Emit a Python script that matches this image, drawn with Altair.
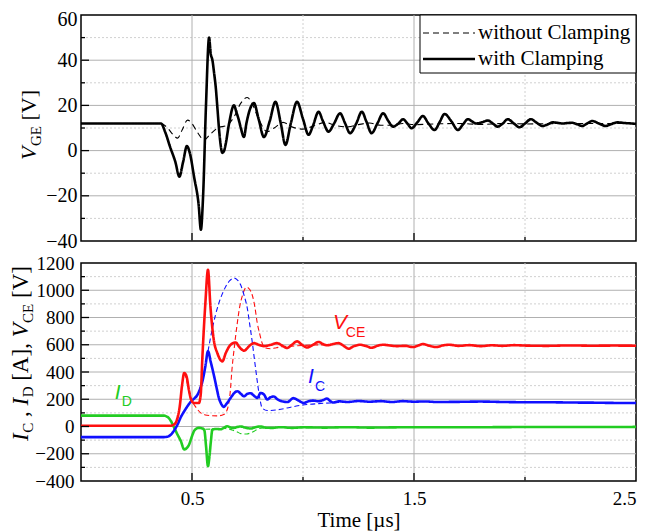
import altair as alt
import pandas as pd

SERIF = "Liberation Serif"
SANS = "Liberation Sans"
RED, BLUE, GREEN = "#ff1010", "#1010ff", "#22cc22"

# ---------------- data (time in us) ----------------
vge_with = [(0,12),(0.36,12),(0.38,8),(0.40,2),(0.425,-5),(0.443,-11.5),(0.46,-5),(0.477,2),(0.49,-1),
    (0.51,-12),(0.53,-24),(0.54,-35),(0.55,-20),(0.563,20),(0.577,50),(0.584,43),(0.592,40),(0.6,34),
    (0.607,28),(0.614,19.4),(0.625,6),(0.637,-1),(0.645,0),(0.652,3),(0.667,12),(0.689,20),(0.7,17),
    (0.711,13.5),(0.72,10),(0.734,6),(0.745,12),(0.76,18),(0.779,21),(0.8,14),(0.824,6),(0.85,13),
    (0.876,21.6),(0.9,12),(0.921,2.5),(0.945,12),(0.973,21.6),(1.0,14),(1.025,7),(1.045,11),(1.07,17.2),
    (1.09,13),(1.115,8.4),(1.14,12),(1.167,16.5),(1.19,12),(1.212,7.7),(1.24,12),(1.265,17.2),(1.285,13),
    (1.309,7.7),(1.335,12),(1.361,16.5),(1.385,13),(1.406,10.6),(1.43,12),(1.451,13.9),(1.47,12),
    (1.489,9.9),(1.515,12.5),(1.54,15.3),(1.565,12),(1.593,9.1),(1.615,12.5),(1.638,16.2),(1.668,13),
    (1.698,9.1),(1.72,11.5),(1.743,13.9),(1.76,13),(1.78,12),(1.805,12.5),(1.833,13.3),(1.855,12),
    (1.877,10.6),(1.9,12),(1.922,13.9),(1.95,12),(1.975,10.3),(2.0,12),(2.027,13.9),(2.05,12.5),
    (2.079,10.9),(2.1,11.5),(2.124,12.5),(2.145,12.3),(2.169,12),(2.19,12.2),(2.214,12.3),(2.236,11.6),
    (2.258,10.9),(2.28,12),(2.303,13.1),(2.333,12),(2.363,10.9),(2.39,11.8),(2.415,12.5),(2.45,12.2),
    (2.48,12),(2.5,11.8)]
vge_without = [(0,12),(0.36,12),(0.39,10),(0.415,7),(0.435,5.5),(0.455,9),(0.48,13.5),(0.5,12),(0.525,8),
    (0.555,4.7),(0.58,7),(0.614,9.9),(0.659,11.3),(0.69,15),(0.72,21),(0.749,23.5),(0.77,21),(0.8,14),
    (0.839,8.4),(0.87,10),(0.91,12.5),(0.95,10.5),(1.0,9.5),(1.05,11),(1.1,12.5),(1.15,11),(1.2,10.5),
    (1.25,11.5),(1.3,12.2),(1.35,11.2),(1.4,11.2),(1.45,12),(1.5,11.5),(1.6,11.8),(1.7,12),(1.8,11.6),
    (1.9,12),(2.0,11.8),(2.2,12),(2.5,12)]

vce_with = [(0,5),(0.40,5),(0.42,15),(0.43,40),(0.445,150),(0.455,300),(0.465,393),(0.475,370),(0.487,260),
    (0.496,198),(0.509,173),(0.531,173),(0.539,230),(0.547,515),(0.56,900),(0.572,1150),(0.583,881),
    (0.598,637),(0.614,539),(0.637,478),(0.652,539),(0.674,600),(0.697,617),(0.711,588),(0.734,557),
    (0.764,600),(0.779,612),(0.8,600),(0.824,590),(0.855,600),(0.883,612),(0.905,595),(0.928,576),
    (0.95,600),(0.973,625),(0.995,600),(1.018,580),(1.045,600),(1.07,620),(1.09,605),(1.108,596),
    (1.135,605),(1.16,612),(1.185,590),(1.205,571),(1.23,590),(1.257,600),(1.285,590),(1.309,578),
    (1.335,592),(1.361,600),(1.39,595),(1.421,590),(1.46,592),(1.495,583),(1.52,595),(1.54,605),
    (1.57,592),(1.6,583),(1.63,595),(1.66,600),(1.7,592),(1.75,597),(1.8,590),(1.85,596),(1.9,592),
    (1.95,597),(2.0,594),(2.1,592),(2.2,595),(2.3,593),(2.4,594),(2.5,593)]
vce_without = [(0.465,393),(0.477,330),(0.487,246),(0.498,190),(0.509,161),(0.525,125),(0.539,100),
    (0.56,85),(0.583,80),(0.614,78),(0.643,88),(0.66,130),(0.672,250),(0.68,418),(0.692,600),(0.704,759),
    (0.715,880),(0.726,955),(0.746,1023),(0.76,1005),(0.771,967),(0.783,880),(0.794,759),(0.805,680),
    (0.816,612),(0.832,576),(0.854,571),(0.88,578),(0.9,585),(0.95,590),(1.0,595),(1.05,598),(1.1,600)]

ic_with = [(0,-78),(0.37,-78),(0.39,-75),(0.41,-50),(0.435,15),(0.45,70),(0.465,112),(0.48,150),(0.496,185),
    (0.51,205),(0.525,234),(0.537,280),(0.547,332),(0.56,440),(0.572,552),(0.585,470),(0.598,381),
    (0.61,290),(0.621,210),(0.632,165),(0.643,144),(0.655,165),(0.674,210),(0.69,245),(0.704,259),
    (0.72,240),(0.734,222),(0.75,240),(0.764,244),(0.78,225),(0.794,210),(0.809,246),(0.824,235),
    (0.839,198),(0.854,215),(0.868,220),(0.885,200),(0.905,185),(0.93,180),(0.957,208),(0.98,190),
    (1.003,173),(1.025,185),(1.047,190),(1.07,185),(1.092,195),(1.108,205),(1.12,190),(1.137,176),
    (1.16,185),(1.2,180),(1.25,187),(1.3,182),(1.35,186),(1.4,180),(1.45,186),(1.5,182),(1.55,184),
    (1.6,180),(1.7,181),(1.8,183),(1.9,180),(2.0,178),(2.1,178),(2.2,176),(2.3,175),(2.4,173),(2.5,172)]
ic_without = [(0.572,552),(0.582,640),(0.592,722),(0.606,820),(0.621,906),(0.637,975),(0.652,1028),
    (0.67,1070),(0.689,1089),(0.705,1075),(0.719,1040),(0.735,960),(0.749,869),(0.76,750),(0.771,625),
    (0.783,470),(0.794,332),(0.805,210),(0.816,136),(0.839,117),(0.883,122),(0.928,136),(0.97,150),
    (1.018,161),(1.07,168),(1.121,173),(1.2,178)]

id_with = [(0,80),(0.37,80),(0.39,70),(0.405,40),(0.42,-10),(0.435,-60),(0.45,-108),(0.465,-169),
    (0.475,-160),(0.487,-132),(0.498,-80),(0.509,-34),(0.52,-15),(0.531,-10),(0.548,-15),(0.556,-30),
    (0.563,-140),(0.572,-291),(0.578,-230),(0.585,-110),(0.592,-22),(0.61,-18),(0.63,-20),(0.645,-8),
    (0.659,2),(0.675,-8),(0.689,-10),(0.705,-3),(0.719,0),(0.74,-8),(0.764,-15),(0.785,-5),(0.809,0),
    (0.83,-8),(0.86,-10),(0.9,-5),(0.95,-10),(1.0,-6),(1.1,-8),(1.2,-5),(1.3,-8),(1.5,-5),(1.7,-6),
    (2.0,-4),(2.3,-4),(2.5,-3)]
id_without = [(0.56,-20),(0.6,-18),(0.65,-15),(0.68,-25),(0.704,-40),(0.72,-52),(0.745,-55),(0.764,-47),
    (0.78,-35),(0.794,-20),(0.82,-10),(0.86,-8)]

modes = ["without Clamping", "with Clamping"]
x_ticks_labeled = [0.5, 1.5, 2.5]
x_grid_major = [0.5, 1.5]
x_grid_minor = [1.0, 2.0]
top_y_ticks = [-40, -20, 0, 20, 40, 60]
top_grid_major = [-20, 0, 20, 40]
top_grid_minor = [-30, -10, 10, 30, 50]
bot_y_ticks = [-400, -200, 0, 200, 400, 600, 800, 1000, 1200]
bot_grid_major = [-200, 0, 200, 400, 600, 800, 1000]
bot_grid_minor = [-300, -100, 100, 300, 500, 700, 900, 1100]

# in-plot labels: (text, t, value, italic, size, color)
bottom_labels = [("V", 1.135, 713, True, 21, RED), ("CE", 1.193, 654, False, 14, RED),
                 ("I", 1.022, 317, True, 21, BLUE), ("C", 1.054, 259, False, 14, BLUE),
                 ("I", 0.152, 200, True, 21, GREEN), ("D", 0.184, 149, False, 14, GREEN)]

W = 555
H1, H2 = 226, 218


def frame(pairs, **extra):
    d = pd.DataFrame(pairs, columns=["t", "v"])
    for k, val in extra.items():
        d[k] = val
    return d


def grid_layers(major, minor, xenc, yenc):
    return [
        alt.Chart(pd.DataFrame({"v": minor})).mark_rule(color="#d0d0d0", strokeWidth=1, strokeDash=[2, 2]).encode(y=yenc),
        alt.Chart(pd.DataFrame({"t": x_grid_minor})).mark_rule(color="#d0d0d0", strokeWidth=1, strokeDash=[2, 2]).encode(x=xenc),
        alt.Chart(pd.DataFrame({"v": major})).mark_rule(color="#b0b0b0", strokeWidth=1).encode(y=yenc),
        alt.Chart(pd.DataFrame({"t": x_grid_major})).mark_rule(color="#b0b0b0", strokeWidth=1).encode(x=xenc),
    ]


def tick_layers(H, major, minor, xenc, yenc):
    return [
        alt.Chart(pd.DataFrame({"t": x_grid_major})).mark_rule(color="black", strokeWidth=1.3).encode(
            x=xenc, y=alt.value(H), y2=alt.value(H - 8)),
        alt.Chart(pd.DataFrame({"t": x_grid_minor})).mark_rule(color="black", strokeWidth=1.3).encode(
            x=xenc, y=alt.value(H), y2=alt.value(H - 4)),
        alt.Chart(pd.DataFrame({"v": major})).mark_rule(color="black", strokeWidth=1.3).encode(
            y=yenc, x=alt.value(0), x2=alt.value(8)),
        alt.Chart(pd.DataFrame({"v": minor})).mark_rule(color="black", strokeWidth=1.3).encode(
            y=yenc, x=alt.value(0), x2=alt.value(4)),
    ]


def piece(text, x, y, size, italic=False, font=SERIF):
    kw = dict(text=text, font=font, fontSize=size, angle=270, align="left",
              baseline="alphabetic", color="black")
    if italic:
        kw["fontStyle"] = "italic"
    return alt.Chart(pd.DataFrame({"a": [0]})).mark_text(**kw).encode(
        x=alt.value(x), y=alt.value(y))


one = pd.DataFrame({"a": [0]})

# ---------------- top panel ----------------
x_top = alt.X("t:Q", scale=alt.Scale(domain=[0, 2.5], nice=False, zero=False), axis=None)
y_top = alt.Y("v:Q", scale=alt.Scale(domain=[-40, 60], nice=False, zero=False),
              axis=alt.Axis(values=top_y_ticks, title=None, grid=False, ticks=False, domain=False,
                            labelFont=SERIF, labelFontSize=20, labelColor="black", labelPadding=4,
                            labelOffset={"condition": {"test": "datum.value == 60", "value": 4},
                                         "value": 0}))

df_top = pd.concat([frame(vge_without, mode=modes[0]), frame(vge_with, mode=modes[1])], ignore_index=True)

top_lines = alt.Chart(df_top).mark_line(color="black", interpolate="monotone").encode(
    x=x_top, y=y_top,
    strokeDash=alt.StrokeDash("mode:N", scale=alt.Scale(domain=modes, range=[[6, 4], [1, 0]]), legend=None),
    strokeWidth=alt.StrokeWidth("mode:N", scale=alt.Scale(domain=modes, range=[1.1, 2.6]), legend=None),
)

# manual legend box (pixel placement inside the top panel)
legend_layers = [
    alt.Chart(one).mark_rect(fill="white", stroke="black", strokeWidth=1).encode(
        x=alt.value(339), x2=alt.value(W), y=alt.value(0), y2=alt.value(58)),
    alt.Chart(one).mark_rule(color="black", strokeWidth=1.1, strokeDash=[6, 4]).encode(
        x=alt.value(342), x2=alt.value(394), y=alt.value(18)),
    alt.Chart(one).mark_rule(color="black", strokeWidth=2.6).encode(
        x=alt.value(342), x2=alt.value(394), y=alt.value(44)),
    alt.Chart(one).mark_text(text=modes[0], font=SERIF, fontSize=21, align="left", baseline="middle",
                             color="black").encode(x=alt.value(397), y=alt.value(18)),
    alt.Chart(one).mark_text(text=modes[1], font=SERIF, fontSize=21, align="left", baseline="middle",
                             color="black").encode(x=alt.value(397), y=alt.value(44)),
]

top_title = [piece("V", -45, 145, 22, True), piece("GE", -40, 131, 15),
             piece("[V]", -45, 105.5, 22)]

top = alt.layer(*grid_layers(top_grid_major, top_grid_minor, x_top, y_top),
                top_lines,
                *tick_layers(H1, top_grid_major, top_grid_minor, x_top, y_top),
                *legend_layers,
                *top_title).properties(width=W, height=H1)

# ---------------- bottom panel ----------------
x_bot = alt.X("t:Q", scale=alt.Scale(domain=[0, 2.5], nice=False, zero=False),
              axis=alt.Axis(values=x_ticks_labeled, format=".1f", title="Time [µs]", grid=False,
                            ticks=False, domain=False, labelFont=SERIF, labelFontSize=19,
                            labelColor="black", labelPadding=8, titleFont=SERIF, titleFontSize=21,
                            titleFontWeight="normal", titleColor="black", titlePadding=1))
y_bot = alt.Y("v:Q", scale=alt.Scale(domain=[-400, 1200], nice=False, zero=False),
              axis=alt.Axis(values=bot_y_ticks, format="d", title=None, grid=False, ticks=False,
                            domain=False, labelFont=SERIF, labelFontSize=19, labelColor="black",
                            labelPadding=7))

series_names = ["VCE dashed", "IC dashed", "ID dashed", "ID", "IC", "VCE"]
series_colors = [RED, BLUE, GREEN, GREEN, BLUE, RED]
df_bot = pd.concat([
    frame(vce_without, s="VCE dashed", m="dashed"),
    frame(ic_without, s="IC dashed", m="dashed"),
    frame(id_without, s="ID dashed", m="dashed"),
    frame(id_with, s="ID", m="solid"),
    frame(ic_with, s="IC", m="solid"),
    frame(vce_with, s="VCE", m="solid"),
], ignore_index=True)

bot_lines = alt.Chart(df_bot).mark_line(interpolate="monotone").encode(
    x=x_bot, y=y_bot,
    color=alt.Color("s:N", scale=alt.Scale(domain=series_names, range=series_colors), legend=None),
    strokeDash=alt.StrokeDash("m:N", scale=alt.Scale(domain=["dashed", "solid"], range=[[5, 3], [1, 0]]),
                              legend=None),
    strokeWidth=alt.StrokeWidth("m:N", scale=alt.Scale(domain=["dashed", "solid"], range=[1.1, 2.6]),
                                legend=None),
)

label_layers = []
for txt, t, v, ital, size, col in bottom_labels:
    kw = dict(text=txt, font=SANS, fontSize=size, align="left", baseline="alphabetic", color=col)
    if ital:
        kw["fontStyle"] = "italic"
    label_layers.append(alt.Chart(pd.DataFrame({"t": [t], "v": [v]})).mark_text(**kw).encode(x=x_bot, y=y_bot))

bot_title = [piece("I", -53, 178, 23, True), piece("C", -48, 169.8, 15),
             piece(",", -53, 154, 23), piece("I", -53, 142.5, 23, True),
             piece("D", -48, 134.3, 15), piece("[A],", -53, 117.8, 23),
             piece("V", -53, 74.3, 23, True), piece("CE", -48, 60, 15),
             piece("[V]", -53, 35, 23)]

bottom = alt.layer(*grid_layers(bot_grid_major, bot_grid_minor, x_bot, y_bot),
                   bot_lines,
                   *tick_layers(H2, bot_grid_major, bot_grid_minor, x_bot, y_bot),
                   *label_layers,
                   *bot_title).properties(width=W, height=H2)

chart = alt.vconcat(top, bottom, spacing=22, bounds="flush").resolve_scale(
    strokeDash="independent", strokeWidth="independent", color="independent"
).configure_view(
    stroke="black", strokeWidth=1.5
).properties(
    padding={"left": 1, "top": 0, "right": 0, "bottom": 0},
    background="white"
)

chart.save("out.html", embed_options={"renderer": "svg", "actions": False})
